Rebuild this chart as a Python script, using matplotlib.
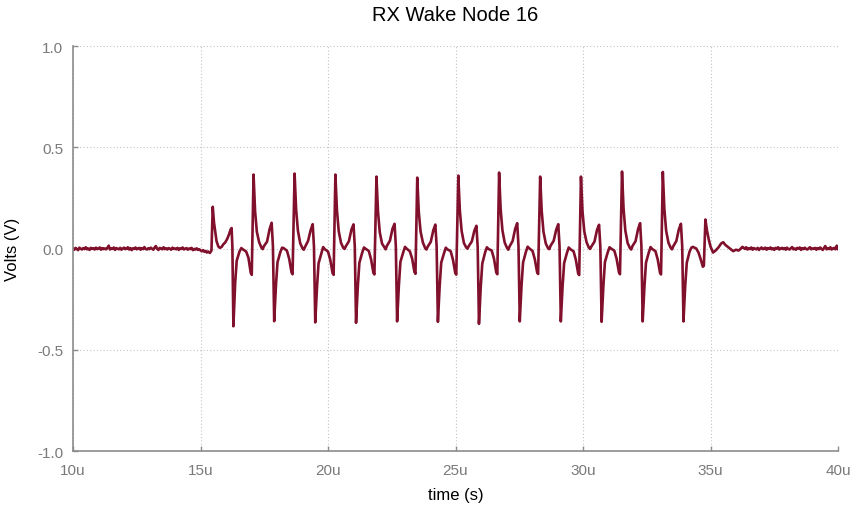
import numpy as np
import matplotlib
matplotlib.use("Agg")
import matplotlib.pyplot as plt

plt.rcParams["font.family"] = ["Liberation Sans", "DejaVu Sans"]
plt.rcParams["axes.unicode_minus"] = False

# scope trace, time in microseconds, voltage in volts
# quiet baseline before the burst, sampled every 50 ns from 10.00u to 15.30u (mV)
pre_mv = [0, -6, 3, -2, -8, 4, -1, -5, 2, -3, 6, -4, 0, -7, 3, -2, 1, -5, 4, -3,
          -1, 5, -6, 2, -3, 0, -4, 3, 14, -5, 1, -2, 5, -7, 2, -1, -4, 3, -6, 0,
          4, -3, -1, 6, -5, 2, -8, 1, -2, 5, -4, 0, 3, -6, 2, -3, 7, -2, -5, 1,
          -3, 4, -1, -6, 5, 12, -2, -7, 3, 0, -4, 6, -3, 1, -5, 2, -1, -6, 4, -2,
          0, -4, 3, -7, 1, -2, 5, -5, -1, 2, -6, 0, -3, 3, -8, -2, -5, 1, -7, -4,
          -9, -14, -8, -16, -12, -20, -15]
pre_start, pre_step = 10.0, 0.05

# burst: one line per pulse (peak, decay, bump, negative kick, recovery, dip)
burst_t = [
    15.37, 15.43, 15.48, 15.53, 15.63, 15.70, 15.76, 15.83, 15.89, 15.97, 16.05, 16.12, 16.18, 16.22, 16.25,
    16.29, 16.36, 16.42, 16.53, 16.60, 16.66, 16.79, 16.88, 16.97, 17.01,
    17.08, 17.14, 17.21, 17.30, 17.39, 17.44, 17.49, 17.61, 17.71, 17.79, 17.84, 17.89, 17.96, 18.02, 18.13, 18.20, 18.26, 18.39, 18.48, 18.57, 18.61,
    18.69, 18.75, 18.82, 18.91, 19.00, 19.05, 19.10, 19.22, 19.32, 19.40, 19.45, 19.50, 19.57, 19.63, 19.74, 19.81, 19.87, 20.00, 20.09, 20.18, 20.22,
    20.29, 20.35, 20.42, 20.51, 20.60, 20.65, 20.70, 20.82, 20.92, 21.00, 21.05, 21.10, 21.17, 21.23, 21.34, 21.41, 21.47, 21.60, 21.69, 21.78, 21.82,
    21.90, 21.96, 22.03, 22.12, 22.21, 22.26, 22.31, 22.43, 22.53, 22.61, 22.66, 22.71, 22.78, 22.84, 22.95, 23.02, 23.08, 23.21, 23.30, 23.39, 23.43,
    23.50, 23.56, 23.63, 23.72, 23.81, 23.86, 23.91, 24.03, 24.13, 24.21, 24.26, 24.31, 24.38, 24.44, 24.55, 24.62, 24.68, 24.81, 24.90, 24.99, 25.03,
    25.11, 25.17, 25.24, 25.33, 25.42, 25.47, 25.52, 25.64, 25.74, 25.82, 25.87, 25.92, 25.99, 26.05, 26.16, 26.23, 26.29, 26.42, 26.51, 26.60, 26.64,
    26.71, 26.77, 26.84, 26.93, 27.02, 27.07, 27.12, 27.24, 27.34, 27.42, 27.47, 27.52, 27.59, 27.65, 27.76, 27.83, 27.89, 28.02, 28.11, 28.20, 28.24,
    28.32, 28.38, 28.45, 28.54, 28.63, 28.68, 28.73, 28.85, 28.95, 29.03, 29.08, 29.13, 29.20, 29.26, 29.37, 29.44, 29.50, 29.63, 29.72, 29.81, 29.85,
    29.92, 29.98, 30.05, 30.14, 30.23, 30.28, 30.33, 30.45, 30.55, 30.63, 30.68, 30.73, 30.80, 30.86, 30.97, 31.04, 31.10, 31.23, 31.32, 31.41, 31.45,
    31.53, 31.59, 31.66, 31.75, 31.84, 31.89, 31.94, 32.06, 32.16, 32.24, 32.29, 32.34, 32.41, 32.47, 32.58, 32.65, 32.71, 32.84, 32.93, 33.02, 33.06,
    33.13, 33.19, 33.26, 33.35, 33.44, 33.49, 33.54, 33.66, 33.76, 33.84, 33.89, 33.94, 34.01, 34.07,
    34.18, 34.25, 34.31, 34.44, 34.53, 34.62, 34.70, 34.74, 34.80, 34.86, 34.93, 35.00, 35.10, 35.20,
    35.31, 35.42, 35.50, 35.58, 35.70, 35.80, 35.89, 36.00, 36.10, 36.16, 36.25,
]
burst_v = [
    -0.022, -0.010, 0.206, 0.127, 0.036, 0.010, 0.003, 0.008, 0.020, 0.030, 0.048, 0.070, 0.094, 0.101, 0.010,
    -0.384, -0.170, -0.060, -0.015, 0.002, -0.004, -0.015, -0.046, -0.120, -0.130,
    0.365, 0.185, 0.082, 0.031, 0.004, -0.003, 0.012, 0.034, 0.096, 0.127, 0.012, -0.359, -0.180, -0.068, -0.018, 0.004, 0.002, -0.011, -0.052, -0.118, -0.127,
    0.370, 0.192, 0.088, 0.026, 0.001, -0.006, 0.008, 0.038, 0.091, 0.120, 0.009, -0.365, -0.188, -0.073, -0.024, 0.007, -0.003, -0.015, -0.056, -0.122, -0.130,
    0.365, 0.190, 0.086, 0.028, 0.003, -0.002, 0.011, 0.036, 0.094, 0.119, 0.011, -0.367, -0.186, -0.071, -0.021, 0.005, -0.001, -0.012, -0.054, -0.120, -0.128,
    0.355, 0.183, 0.080, 0.024, 0.006, -0.004, 0.013, 0.039, 0.098, 0.122, 0.013, -0.360, -0.182, -0.066, -0.019, 0.008, 0.000, -0.014, -0.050, -0.116, -0.125,
    0.350, 0.181, 0.084, 0.030, 0.002, -0.005, 0.009, 0.033, 0.090, 0.118, 0.010, -0.362, -0.184, -0.070, -0.023, 0.004, -0.004, -0.013, -0.055, -0.121, -0.129,
    0.360, 0.188, 0.087, 0.027, 0.005, -0.001, 0.012, 0.035, 0.088, 0.112, 0.008, -0.372, -0.190, -0.075, -0.020, 0.006, -0.002, -0.010, -0.051, -0.119, -0.127,
    0.375, 0.195, 0.090, 0.029, 0.003, -0.006, 0.010, 0.037, 0.097, 0.125, 0.012, -0.360, -0.181, -0.069, -0.017, 0.009, 0.001, -0.012, -0.053, -0.117, -0.126,
    0.355, 0.186, 0.083, 0.025, 0.001, -0.003, 0.014, 0.038, 0.093, 0.120, 0.011, -0.360, -0.185, -0.072, -0.022, 0.005, -0.003, -0.014, -0.056, -0.123, -0.131,
    0.355, 0.184, 0.085, 0.031, 0.004, -0.002, 0.010, 0.034, 0.092, 0.117, 0.009, -0.362, -0.183, -0.067, -0.019, 0.006, 0.000, -0.011, -0.052, -0.118, -0.127,
    0.380, 0.197, 0.089, 0.027, 0.002, -0.005, 0.012, 0.036, 0.096, 0.125, 0.013, -0.360, -0.187, -0.070, -0.020, 0.007, -0.002, -0.013, -0.054, -0.120, -0.128,
    0.378, 0.196, 0.088, 0.029, 0.003, -0.004, 0.011, 0.037, 0.095, 0.122, 0.012, -0.360, -0.180, -0.070,
    -0.015, 0.004, 0.008, 0.000, -0.020, -0.055, -0.090, -0.085, 0.143, 0.090, 0.045, 0.010, -0.020, -0.010,
    0.005, 0.025, 0.031, 0.018, 0.006, -0.004, -0.013, -0.006, -0.010, -0.004, 0.008,
]

# quiet baseline after the burst, every 50 ns from 36.30u to 40.00u (mV)
post_mv = [4, -2, 6, -5, 1, -3, 5, -6, 2, -1,
           -4, 3, -7, 0, 5, -3, -1, 4, -6, 2,
           -2, 5, -4, 1, -7, 3, -1, 6, -5, 0,
           3, -3, 2, -6, 4, -2, -5, 1, 7, -4,
           0, -6, 3, -1, 5, -7, 2, -3, 4, -2,
           -5, 1, 6, -4, 0, -2, 3, -6, 2, -3,
           5, -1, -7, 2, 12, -4, 1, -3, 6, -5,
           0, 3, -4, 14, -2]
post_start, post_step = 36.30, 0.05

x_ticks = [10, 15, 20, 25, 30, 35, 40]
x_labels = [f"{t}u" for t in x_ticks]
y_ticks = [-1.0, -0.5, 0.0, 0.5, 1.0]

pre_t = pre_start + pre_step * np.arange(len(pre_mv))
post_t = post_start + post_step * np.arange(len(post_mv))
t = np.concatenate([pre_t, burst_t, post_t])
v = np.concatenate([np.array(pre_mv) / 1000.0, burst_v, np.array(post_mv) / 1000.0])

fig = plt.figure(figsize=(8.57, 5.10), dpi=100)
ax = fig.add_axes([73 / 857, 58 / 510, 765 / 857, 405 / 510])

ax.plot(t, v, color="#80102c", lw=1.9, solid_joinstyle="round")

ax.set_xlim(10, 40)
ax.set_ylim(-1.0, 1.0)
ax.set_xticks(x_ticks)
ax.set_xticklabels(x_labels)
ax.set_yticks(y_ticks)
ax.set_yticklabels([f"{y:.1f}" for y in y_ticks])

ax.grid(True, color="#c4c4c4", linestyle=(0, (1, 2)), linewidth=0.8)
ax.set_axisbelow(True)

for side in ("top", "right"):
    ax.spines[side].set_visible(False)
for side in ("left", "bottom"):
    ax.spines[side].set_color("#8c8c8c")
    ax.spines[side].set_linewidth(1.2)

ax.tick_params(axis="both", direction="in", length=3.5, width=1.0, color="#8c8c8c",
               labelcolor="#7a7a7a", labelsize=11)
ax.tick_params(axis="x", pad=9)
ax.tick_params(axis="y", pad=7)

ax.set_title("RX Wake Node 16", fontsize=14.5, pad=19)
ax.set_xlabel("time (s)", fontsize=12)
ax.set_ylabel("Volts (V)", fontsize=12)
ax.xaxis.set_label_coords(0.5, -0.09)
ax.yaxis.set_label_coords(-0.069, 0.5)

fig.savefig("out.png", dpi=100)
